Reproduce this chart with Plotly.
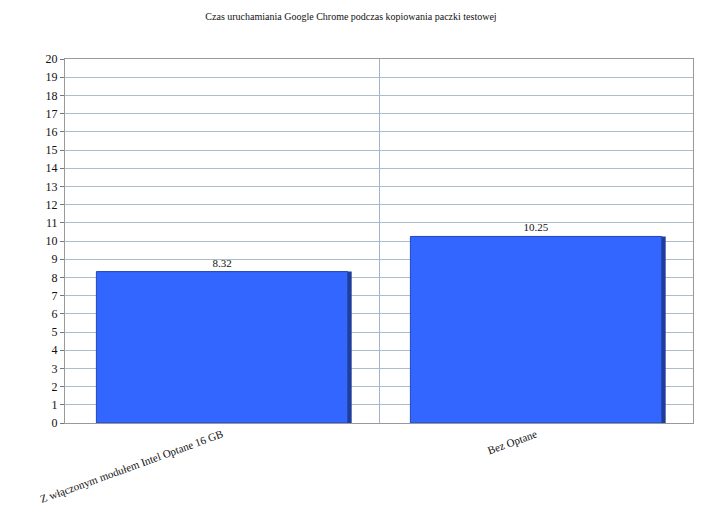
import plotly.graph_objects as go

categories = ["Z włączonym modułem Intel Optane 16 GB", "Bez Optane"]
values = [8.32, 10.25]
labels = ["8.32", "10.25"]
y_ticks = list(range(0, 21))

FONT = "'Times New Roman', 'Liberation Serif', 'DejaVu Serif', serif"
xpos = list(range(len(categories)))

fig = go.Figure()
# darker side of the bars (pseudo 3D)
fig.add_trace(go.Bar(
    x=xpos, y=values, width=0.8, offset=-0.4 + 0.013,
    marker=dict(color="#1f3d99", line=dict(width=0)),
    hoverinfo="skip", showlegend=False,
))
fig.add_trace(go.Bar(
    x=xpos, y=values, width=0.8, offset=-0.4,
    marker=dict(color="#3366ff", line=dict(color="#2448b8", width=1)),
    text=labels, textposition="outside", cliponaxis=False,
    textfont=dict(family=FONT, size=11, color="#111111"),
    showlegend=False,
))

fig.update_layout(
    width=686, height=500,
    margin=dict(l=57, r=1, t=51, b=85),
    barmode="overlay",
    paper_bgcolor="white", plot_bgcolor="white",
    font=dict(family=FONT, size=11, color="#111111"),
    title=dict(text="Czas uruchamiania Google Chrome podczas kopiowania paczki testowej",
               x=0.5, xanchor="center", y=0.99, yanchor="top", pad=dict(t=0),
               font=dict(family=FONT, size=10, color="#111111")),
)
fig.update_xaxes(
    range=[-0.5, 1.5], tickvals=xpos, ticktext=categories, tickangle=-20,
    showgrid=False, zeroline=False,
    showline=True, linecolor="#999999", linewidth=1, mirror=True,
    ticks="", tickfont=dict(family=FONT, size=11, color="#111111"),
    minor=dict(tick0=0.5, dtick=1, showgrid=True, gridcolor="#a0b2c6", gridwidth=1, ticks=""),
)
fig.update_yaxes(
    range=[0, 20], tickvals=y_ticks, ticktext=[str(v) for v in y_ticks],
    showgrid=True, gridcolor="#adbccd", gridwidth=1, zeroline=False,
    showline=True, linecolor="#999999", linewidth=1, mirror=True,
    ticks="outside", ticklen=4, tickcolor="#777777",
    tickfont=dict(family=FONT, size=12, color="#111111"),
)

fig.write_html("out.html")
